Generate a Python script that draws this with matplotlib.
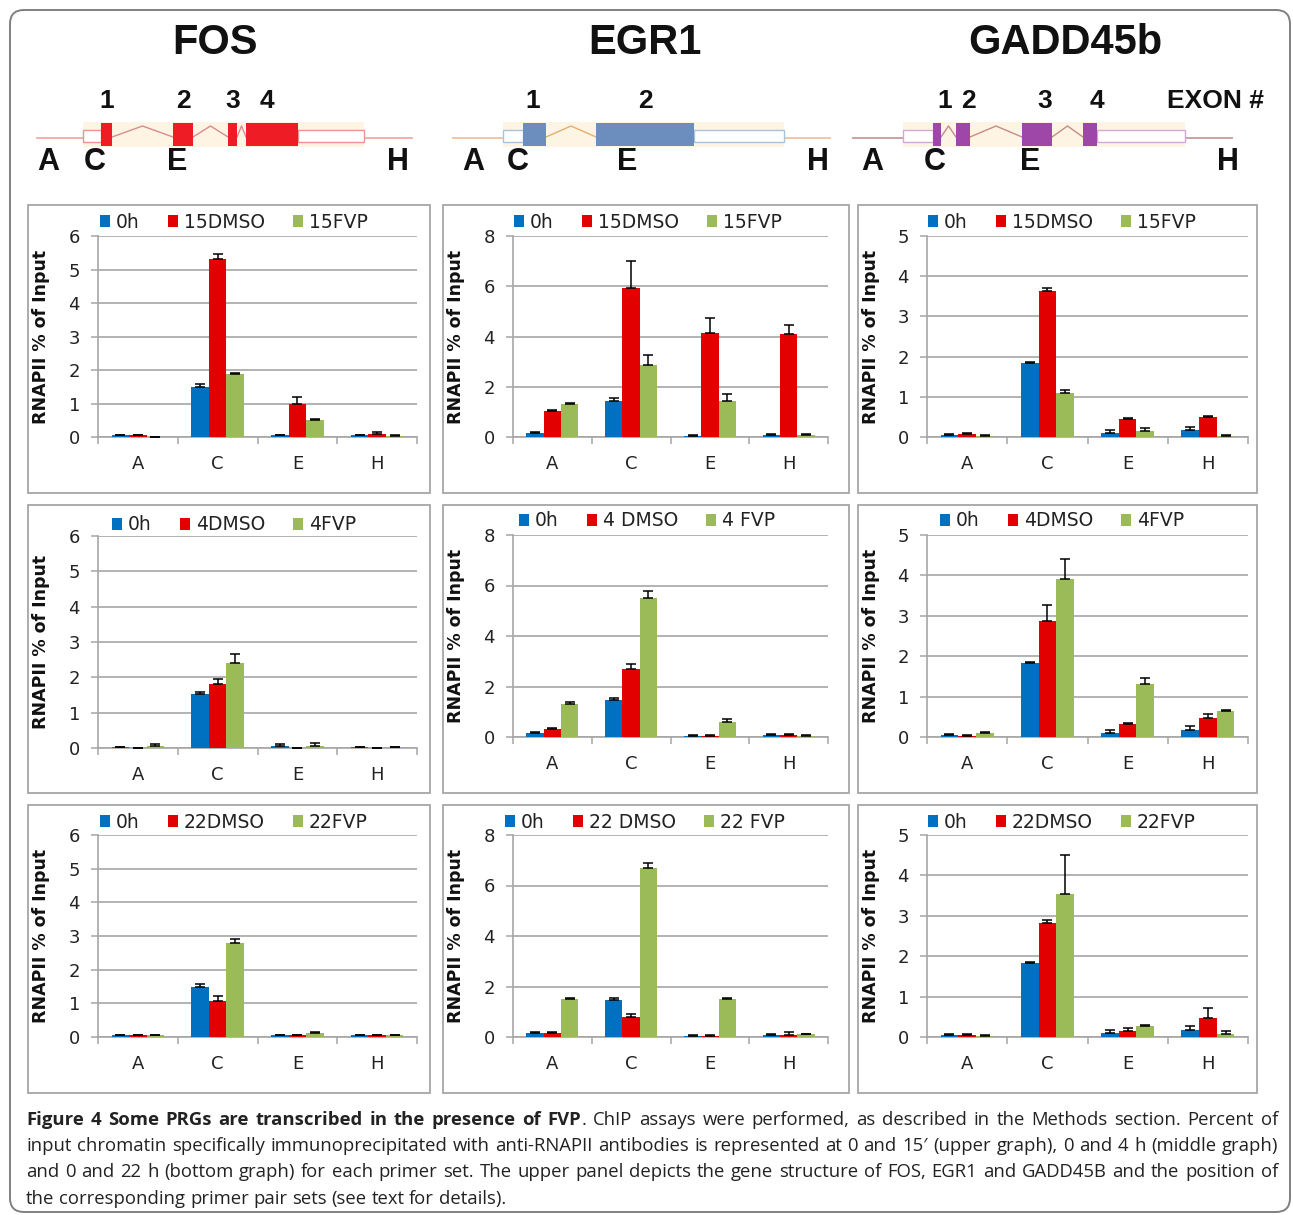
import matplotlib
matplotlib.use('Agg')
import matplotlib.pyplot as plt
from matplotlib.patches import Rectangle, FancyBboxPatch
import numpy as np

W, H = 1293, 1215

sites = ['A', 'C', 'E', 'H']
genes = ['FOS', 'EGR1', 'GADD45b']
colors = ['#0070C0', '#E30000', '#9BBB59']

# ---- ChIP values (rows: 0h, DMSO, FVP; columns: A C E H) ----
fos_15 = [[0.05, 1.50, 0.05, 0.05],
          [0.05, 5.30, 1.00, 0.10],
          [0.00, 1.87, 0.50, 0.04]]
fos_15_err = [[0.01, 0.08, 0.01, 0.01],
              [0.01, 0.15, 0.20, 0.05],
              [0.00, 0.04, 0.05, 0.01]]
egr1_15 = [[0.15, 1.45, 0.05, 0.08],
           [1.02, 5.95, 4.15, 4.10],
           [1.30, 2.85, 1.45, 0.08]]
egr1_15_err = [[0.04, 0.12, 0.02, 0.04],
               [0.05, 1.05, 0.60, 0.35],
               [0.05, 0.40, 0.25, 0.04]]
gadd_15 = [[0.05, 1.83, 0.10, 0.18],
           [0.07, 3.63, 0.45, 0.50],
           [0.03, 1.10, 0.15, 0.03]]
gadd_15_err = [[0.02, 0.03, 0.08, 0.08],
               [0.02, 0.07, 0.02, 0.02],
               [0.01, 0.08, 0.08, 0.01]]

fos_4 = [[0.03, 1.52, 0.07, 0.03],
         [0.00, 1.80, 0.00, 0.00],
         [0.07, 2.40, 0.05, 0.03]]
fos_4_err = [[0.01, 0.07, 0.03, 0.01],
             [0.00, 0.15, 0.00, 0.00],
             [0.03, 0.25, 0.08, 0.01]]
egr1_4 = [[0.15, 1.45, 0.05, 0.08],
          [0.30, 2.70, 0.05, 0.08],
          [1.30, 5.50, 0.60, 0.05]]
egr1_4_err = [[0.03, 0.10, 0.01, 0.03],
              [0.05, 0.20, 0.01, 0.03],
              [0.10, 0.28, 0.10, 0.01]]
gadd_4 = [[0.05, 1.83, 0.10, 0.18],
          [0.03, 2.88, 0.32, 0.48],
          [0.10, 3.90, 1.30, 0.65]]
gadd_4_err = [[0.02, 0.03, 0.07, 0.08],
              [0.01, 0.38, 0.03, 0.08],
              [0.03, 0.50, 0.17, 0.01]]

fos_22 = [[0.05, 1.50, 0.05, 0.05],
          [0.05, 1.07, 0.05, 0.05],
          [0.05, 2.80, 0.12, 0.05]]
fos_22_err = [[0.01, 0.07, 0.01, 0.01],
              [0.01, 0.15, 0.01, 0.01],
              [0.01, 0.10, 0.02, 0.01]]
egr1_22 = [[0.15, 1.45, 0.05, 0.08],
           [0.15, 0.80, 0.05, 0.08],
           [1.50, 6.70, 1.50, 0.10]]
egr1_22_err = [[0.03, 0.10, 0.01, 0.03],
               [0.03, 0.12, 0.01, 0.10],
               [0.05, 0.20, 0.05, 0.02]]
gadd_22 = [[0.05, 1.83, 0.10, 0.18],
           [0.05, 2.83, 0.15, 0.48],
           [0.03, 3.55, 0.28, 0.08]]
gadd_22_err = [[0.02, 0.03, 0.07, 0.08],
               [0.02, 0.07, 0.07, 0.25],
               [0.01, 0.95, 0.01, 0.07]]

legend_15 = ['0h', '15DMSO', '15FVP']
legend_4 = ['0h', '4DMSO', '4FVP']
legend_4s = ['0h', '4 DMSO', '4 FVP']
legend_22 = ['0h', '22DMSO', '22FVP']
legend_22s = ['0h', '22 DMSO', '22 FVP']

ymax = [6, 8, 5]
ystep = [1, 2, 1]

# ---- gene structure schematics (pixel units along the strip) ----
fos_exons = [(101, 112), (173, 193), (228, 237), (246, 298)]
fos_utr = (83, 364)
fos_line = (37, 412)
fos_num_x = [107, 183, 233, 267]
fos_site_x = [48, 95, 177, 398]

egr1_exons = [(523, 546), (596, 694)]
egr1_utr = (503, 784)
egr1_line = (453, 830)
egr1_num_x = [533, 645]
egr1_site_x = [473, 518, 627, 818]

gadd_exons = [(933, 941), (956, 970), (1022, 1052), (1083, 1097)]
gadd_utr = (903, 1185)
gadd_line = (853, 1232)
gadd_num_x = [945, 968, 1045, 1097]
gadd_site_x = [872, 935, 1030, 1228]

title_x = [215, 645, 1065]

fig = plt.figure(figsize=(W / 100, H / 100), dpi=100)
fig.patch.set_facecolor('white')

# overlay in pixel coordinates
ov = fig.add_axes([0, 0, 1, 1], zorder=0)
ov.set_xlim(0, W)
ov.set_ylim(H, 0)
ov.axis('off')

ov.add_patch(FancyBboxPatch((10, 10), 1280, 1202,
                            boxstyle='round,pad=0,rounding_size=14',
                            fc='none', ec='#808080', lw=1.4))

for gx, name in zip(title_x, genes):
    ov.text(gx, 43, name, ha='center', va='center', fontsize=30,
            fontweight='bold', family='Liberation Sans', color='#111')


def gene(exons, utr, line, num_x, site_x, exon_c, line_c, intron_c, utr_c):
    ov.plot(line, [137.5, 137.5], color=line_c, lw=1.3, zorder=1)
    ov.add_patch(Rectangle((utr[0], 122), utr[1] - utr[0], 25, fc='#FDF4E4',
                           ec='none', zorder=2))
    ov.add_patch(Rectangle((utr[0], 129.5), exons[0][0] - utr[0], 12,
                           fc='white', ec=utr_c, lw=1.0, zorder=3))
    ov.add_patch(Rectangle((exons[-1][1], 129.5), utr[1] - exons[-1][1], 12,
                           fc='white', ec=utr_c, lw=1.0, zorder=3))
    for (a, b), (c, d) in zip(exons[:-1], exons[1:]):
        ov.plot([b, (b + c) / 2, c], [137, 126, 137], color=intron_c, lw=1.0,
                zorder=3)
    for a, b in exons:
        ov.add_patch(Rectangle((a, 123), b - a, 23, fc=exon_c, ec='none',
                               zorder=4))
    for i, x in enumerate(num_x):
        ov.text(x, 101, str(i + 1), ha='center', va='center', fontsize=19,
                fontweight='bold', family='Liberation Sans', color='#111')
    for x, s in zip(site_x, sites):
        ov.text(x, 162, s, ha='center', va='center', fontsize=22,
                fontweight='bold', family='Liberation Sans', color='#111')


gene(fos_exons, fos_utr, fos_line, fos_num_x, fos_site_x,
     '#EE1C24', '#F4A8A8', '#D88C8C', '#F09090')
gene(egr1_exons, egr1_utr, egr1_line, egr1_num_x, egr1_site_x,
     '#6C8EBF', '#F7C09A', '#E2B070', '#A9C3DB')
gene(gadd_exons, gadd_utr, gadd_line, gadd_num_x, gadd_site_x,
     '#9E47A8', '#C99A9A', '#C88A8A', '#D6A6D6')
ov.text(1215, 101, 'EXON #', ha='center', va='center', fontsize=19,
        fontweight='bold', family='Liberation Sans', color='#111')

# ---- bar chart panels ----
rows = [
    [(fos_15, fos_15_err, legend_15), (egr1_15, egr1_15_err, legend_15),
     (gadd_15, gadd_15_err, legend_15)],
    [(fos_4, fos_4_err, legend_4), (egr1_4, egr1_4_err, legend_4s),
     (gadd_4, gadd_4_err, legend_4)],
    [(fos_22, fos_22_err, legend_22), (egr1_22, egr1_22_err, legend_22s),
     (gadd_22, gadd_22_err, legend_22)],
]
col_x = [(98, 417), (513, 828), (927, 1248)]
row_y = [[(236, 437)] * 3,
         [(536, 748), (535, 737), (535, 737)],
         [(835, 1037)] * 3]
box_x = [(28, 430), (443, 849), (858, 1257)]
box_y = [(205, 493), (505, 793), (805, 1093)]
leg_dx = [[2, 1, 1], [14, 6, 13], [2, -8, 1]]
leg_dy = [[14, 14, 14], [11, 14, 14], [13, 13, 13]]

gridc = '#A6A6A6'
bw = 0.22
x = np.arange(len(sites))

for r, row in enumerate(rows):
    for c, (vals, errs, labels) in enumerate(row):
        bx0, bx1 = box_x[c]
        by0, by1 = box_y[r]
        ov.add_patch(Rectangle((bx0, by0), bx1 - bx0, by1 - by0, fc='none',
                               ec=gridc, lw=1.3))
        x0, x1 = col_x[c]
        y0, y1 = row_y[r][c]
        ax = fig.add_axes([x0 / W, (H - y1) / H, (x1 - x0) / W, (y1 - y0) / H],
                          zorder=2)
        ax.set_facecolor('none')
        for k in range(3):
            v = np.array(vals[k])
            e = np.array(errs[k])
            ax.bar(x + (k - 1) * bw, v, bw, color=colors[k], label=labels[k],
                   zorder=3)
            ax.errorbar(x + (k - 1) * bw, v, yerr=[np.zeros_like(e), e],
                        fmt='none', ecolor='black', elinewidth=1.1,
                        capsize=3.5, capthick=1.1, zorder=4)
        ax.set_xlim(-0.5, 3.5)
        ax.set_ylim(0, ymax[c])
        ax.set_yticks(np.arange(0, ymax[c] + 0.01, ystep[c]))
        ax.set_xticks(x)
        ax.set_xticklabels(sites)
        ax.set_xticks(np.arange(-0.5, 4, 1), minor=True)
        ax.tick_params(axis='x', which='major', length=0, pad=13,
                       labelsize=13, labelcolor='#222')
        ax.tick_params(axis='x', which='minor', length=5, color=gridc,
                       width=1.1)
        ax.tick_params(axis='y', length=5, color=gridc, width=1.1, pad=8,
                       labelsize=13, labelcolor='#222')
        ax.grid(axis='y', color=gridc, lw=1.2, zorder=0)
        for s in ['top', 'right']:
            ax.spines[s].set_visible(False)
        for s in ['left', 'bottom']:
            ax.spines[s].set_color(gridc)
            ax.spines[s].set_linewidth(1.2)
        ax.set_ylabel('RNAPII % of Input', fontsize=12.5, fontweight='bold',
                      color='#111')
        ax.yaxis.set_label_coords(bx0 + 22, (y0 + y1) / 2,
                                  transform=ov.transData)
        hy = 1 + leg_dy[r][c] / (y1 - y0)
        hx = leg_dx[r][c] / (x1 - x0)
        ax.legend(loc='center left', bbox_to_anchor=(hx, hy), ncol=3,
                  frameon=False, fontsize=13.5, handlelength=0.55,
                  handleheight=0.55, handletextpad=0.3, columnspacing=1.5,
                  borderpad=0, borderaxespad=0, labelcolor='#222')

# ---- caption, justified ----
cap_lines = [
    [('Figure 4 Some PRGs are transcribed in the presence of FVP', 'bold'),
     ('. ChIP assays were performed, as described in the Methods section. '
      'Percent of', 'normal')],
    [('input chromatin specifically immunoprecipitated with anti-RNAPII '
      'antibodies is represented at 0 and 15\u2032 (upper graph), 0 and 4 h '
      '(middle graph)', 'normal')],
    [('and 0 and 22 h (bottom graph) for each primer set. The upper panel '
      'depicts the gene structure of FOS, EGR1 and GADD45B and the position of',
      'normal')],
    [('the corresponding primer pair sets (see text for details).', 'normal')],
]
cap_y = [1125, 1151, 1177, 1204]
cap_x0, cap_x1 = 26, 1278
cap_kw = dict(fontsize=13.3, family='Open Sans', color='#222', va='baseline',
              ha='left')

renderer = fig.canvas.get_renderer()


def width(t):
    return t.get_window_extent(renderer=renderer).width


sp_a = ov.text(0, -100, 'a a', **cap_kw)
sp_b = ov.text(0, -100, 'aa', **cap_kw)
space = width(sp_a) - width(sp_b)
sp_a.remove()
sp_b.remove()

for li, (segs, y) in enumerate(zip(cap_lines, cap_y)):
    words = []
    for text, weight in segs:
        glue = (not text.startswith(' ')) and len(words) > 0
        for i, p in enumerate(text.split(' ')):
            if p == '':
                continue
            if i == 0 and glue:
                words[-1].append((p, weight))
            else:
                words.append([(p, weight)])
    arts = []
    total = 0
    for wd in words:
        pieces = []
        for p, weight in wd:
            t = ov.text(0, y, p, fontweight=weight, **cap_kw)
            pieces.append((t, width(t)))
            total += pieces[-1][1]
        arts.append(pieces)
    if li < len(cap_lines) - 1:
        gap = (cap_x1 - cap_x0 - total) / (len(words) - 1)
    else:
        gap = space
    xx = cap_x0
    for pieces in arts:
        for t, w in pieces:
            t.set_x(xx)
            xx += w
        xx += gap

fig.savefig('out.png', dpi=100)
